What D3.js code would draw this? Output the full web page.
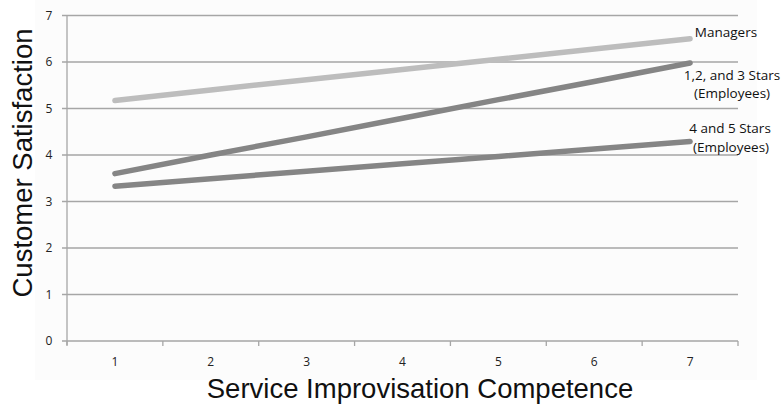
<!DOCTYPE html>
<html><head><meta charset="utf-8">
<script src="https://cdn.jsdelivr.net/npm/d3@7"></script>
<style>body{margin:0;background:#fff}svg{display:block}</style>
</head><body>
<svg id="c" width="782" height="407"></svg>
<script>
const categories = [1,2,3,4,5,6,7];
const yTicks = [0,1,2,3,4,5,6,7];
const managers = [5.17,5.40,5.62,5.84,6.06,6.28,6.50];
const stars123 = [3.60,4.00,4.39,4.79,5.19,5.58,5.98];
const stars45 = [3.33,3.49,3.65,3.81,3.97,4.13,4.29];
const seriesNames = ["Managers","1,2, and 3 Stars","4 and 5 Stars"];
const seriesSub = ["","(Employees)","(Employees)"];
const xTitle = "Service Improvisation Competence";
const yTitle = "Customer Satisfaction";

const svg = d3.select("#c");
const L=67, R=738, T=15.5, B=341;
svg.append("rect").attr("x",35).attr("y",0).attr("width",722).attr("height",380).attr("fill","#fcfcfc");

const x = d3.scaleBand().domain(categories).range([L,R]);
const y = d3.scaleLinear().domain([0,7]).range([B,T]);
const axisCol="#a6a6a6";
// gridlines
svg.append("g").selectAll("line").data(yTicks).join("line")
  .attr("x1",L-5).attr("x2",R).attr("y1",d=>y(d)).attr("y2",d=>y(d))
  .attr("stroke",axisCol).attr("stroke-width",1.3);
// y axis line
svg.append("line").attr("x1",L).attr("x2",L).attr("y1",T).attr("y2",B+4).attr("stroke",axisCol).attr("stroke-width",1.3);
// x tick marks
const bounds = categories.map(c=>x(c)+x.bandwidth()).concat([L]);
svg.append("g").selectAll("line").data(bounds).join("line")
  .attr("x1",d=>d).attr("x2",d=>d).attr("y1",B).attr("y2",B+5).attr("stroke",axisCol).attr("stroke-width",1.3);
// tick labels
const tf = "'Open Sans', 'Liberation Sans', sans-serif";
svg.append("g").selectAll("text").data(yTicks).join("text")
  .attr("x",49).attr("y",d=>y(d)).attr("dy","0.35em").attr("text-anchor","middle")
  .attr("font-family",tf).attr("font-size",12).attr("fill","#222").text(d=>d);
svg.append("g").selectAll("text").data(categories).join("text")
  .attr("x",d=>x(d)+x.bandwidth()/2).attr("y",362).attr("dy","0.35em").attr("text-anchor","middle")
  .attr("font-family",tf).attr("font-size",12).attr("fill","#222").text(d=>d);

// lines
const line = d3.line().x((d,i)=>x(categories[i])+x.bandwidth()/2).y(d=>y(d));
const data = [stars45, stars123, managers];
const cols = ["#858585","#858585","#bdbdbd"];
data.forEach((s,i)=>{
  svg.append("path").attr("d",line(s)).attr("fill","none").attr("stroke",cols[i])
    .attr("stroke-width",5.5).attr("stroke-linecap","round").attr("stroke-linejoin","round");
});

// labels
const labs = [
  {t:seriesNames[0], x:726, y:32},
  {t:seriesNames[1], x:732, y:75},
  {t:seriesSub[1], x:732, y:93},
  {t:seriesNames[2], x:730, y:128},
  {t:seriesSub[2], x:731, y:147}
];
svg.append("g").selectAll("text").data(labs).join("text")
  .attr("x",d=>d.x).attr("y",d=>d.y).attr("dy","0.35em").attr("text-anchor","middle")
  .attr("font-family",tf).attr("font-size",13.5).attr("fill","#111").text(d=>d.t);

// titles
svg.append("text").attr("x",420).attr("y",398).attr("text-anchor","middle")
  .attr("font-family","'Liberation Sans', Arial, sans-serif").attr("font-size",27.5).attr("fill","#111").text(xTitle);
svg.append("text").attr("transform","translate(32,163) rotate(-90)").attr("text-anchor","middle")
  .attr("font-family","'Liberation Sans', Arial, sans-serif").attr("font-size",27.5).attr("fill","#111").text(yTitle);
</script>
</body></html>
